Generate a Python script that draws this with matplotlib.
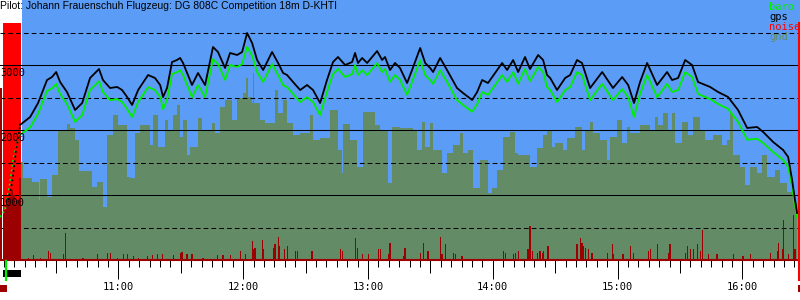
import matplotlib
matplotlib.use("Agg")
import matplotlib.pyplot as plt
import matplotlib.transforms as mtrans
from matplotlib.patches import Rectangle
from matplotlib.lines import Line2D
from matplotlib.ticker import FixedLocator, NullLocator

title = "Pilot: Johann Frauenschuh Flugzeug: DG 808C Competition 18m D-KHTI"

# time axis: minutes after 10:00 ; altitudes in metres
x_start, x_end = 3.1, 387.7
y_max = 4000
hour_ticks = [60, 120, 180, 240, 300, 360]
hour_labels = ["11:00", "12:00", "13:00", "14:00", "15:00", "16:00"]
y_labels = [1000, 2000, 3000]
solid_grid = [1000, 2000, 3000]
dashed_grid = [500, 1500, 2500, 3500]

engine_start, engine_end = 4.5, 13.2
flight_start = 13.7
takeoff_t = 6.0
landing_t = 387.0
band_top = 3650

gps_t = [12.7, 17.6, 21.4, 25.7, 28.1, 30.1, 32.0, 35.3, 39.2, 42.6, 46.4, 48.8, 50.7, 52.6,
         56.0, 59.4, 61.8, 64.2, 66.6, 69.5, 74.3, 77.6, 80.1, 81.5, 83.4, 85.8, 88.2, 89.7,
         91.1, 95.4, 98.3, 101.7, 105.5, 107.9, 111.3, 113.7, 117.1, 119.5, 121.9, 124.3,
         126.7, 129.6, 133.9, 136.8, 139.2, 141.1, 144.0, 147.4, 150.7, 153.6, 157.0, 160.3,
         163.2, 165.6, 169.0, 172.4, 173.8, 175.2, 177.2, 179.6, 184.4, 186.8, 188.2, 190.6,
         193.0, 195.4, 198.8, 201.2, 205.1, 207.5, 209.9, 211.3, 214.7, 218.0, 222.8, 225.7,
         230.1, 232.5, 234.9, 237.7, 241.1, 244.5, 246.9, 249.8, 252.2, 255.5, 257.9, 261.8,
         264.2, 266.1, 267.6, 270.9, 274.8, 277.2, 280.5, 282.9, 286.8, 292.6, 297.8, 302.2,
         305.1, 307.9, 310.8, 314.2, 319.0, 323.8, 326.2, 329.1, 332.5, 335.8, 338.7, 344.5,
         348.3, 353.1, 357.9, 362.3, 367.1, 370.0, 374.8, 379.6, 382.0, 383.9, 385.3, 386.3]
gps_alt = [2077, 2200, 2415, 2769, 2815, 2892, 2738, 2585, 2308, 2415, 2800, 2877, 2938, 2769,
           2646, 2662, 2615, 2508, 2385, 2615, 2846, 2800, 2692, 2508, 2646, 3046, 3077, 3108,
           3031, 2692, 2877, 2692, 3277, 3200, 2954, 3185, 3154, 3200, 3492, 3338,
           3077, 2923, 3200, 3031, 2877, 2846, 2738, 2615, 2692, 2615, 2415, 2769,
           3046, 3123, 3000, 3046, 3185, 3031, 3108, 3031, 3215, 3077, 3123, 2923,
           3031, 2954, 2723, 2923, 3262, 3031, 2954, 2892, 3108, 2923, 2646, 2569,
           2462, 2585, 2769, 2723, 2877, 3031, 2923, 3077, 2892, 3123, 2938, 3154,
           3077, 2846, 2800, 2615, 2800, 2846, 3077, 3031, 2646, 2892, 2646, 2815,
           2692, 2415, 2738, 3031, 2692, 2892, 2769, 2800, 3077, 3000, 2738, 2662,
           2585, 2508, 2308, 2031, 2046, 1969, 1815, 1692, 1585, 1231, 923, 723]
baro_alt = [1923, 2040, 2250, 2600, 2640, 2710, 2555, 2400, 2125, 2230, 2615, 2690, 2750, 2585,
            2460, 2475, 2430, 2325, 2200, 2430, 2660, 2615, 2505, 2320, 2460, 2860, 2890, 2920,
            2845, 2505, 2690, 2505, 3090, 3015, 2770, 3000, 2970, 3015, 3280, 3140,
            2890, 2740, 3015, 2845, 2690, 2660, 2555, 2430, 2505, 2430, 2230, 2585,
            2860, 2940, 2815, 2860, 3000, 2845, 2920, 2845, 3030, 2890, 2940, 2740,
            2845, 2770, 2540, 2740, 3075, 2845, 2770, 2710, 2920, 2740, 2460, 2385,
            2280, 2400, 2585, 2540, 2690, 2845, 2740, 2890, 2710, 2940, 2750, 2970,
            2890, 2660, 2615, 2430, 2615, 2660, 2890, 2845, 2460, 2710, 2460, 2630,
            2505, 2200, 2555, 2845, 2505, 2710, 2585, 2615, 2890, 2815, 2555, 2475,
            2400, 2325, 2125, 1850, 1865, 1800, 1660, 1540, 1430, 1130, 850, 660]

tow_gps_t = [7.0, 8.9, 10.8, 12.7]
tow_gps_alt = [923, 1185, 1692, 2046]
tow_baro_t = [3.1, 5.5, 7.9, 9.4, 11.3, 12.7]
tow_baro_alt = [662, 769, 1185, 1538, 1800, 1923]

gnd_t = [12.74, 14.18, 18.51, 21.88, 22.36, 25.72, 28.13, 31.01, 35.34, 36.78, 39.18, 41.11,
         47.36, 49.76, 52.64, 54.57, 57.45, 59.86, 64.18, 65.63, 68.03, 70.43, 75.24, 76.68,
         79.09, 82.45, 83.89, 86.30, 88.22, 89.66, 91.11, 93.03, 94.47, 98.32, 100.24, 105.05,
         106.49, 108.89, 111.30, 114.66, 117.07, 119.95, 121.39, 122.36, 124.28, 124.76, 125.24,
         128.13, 130.53, 135.34, 136.78, 139.18, 141.11, 143.99, 147.36, 152.16, 153.61, 156.97,
         161.78, 165.63, 167.55, 168.03, 171.39, 174.76, 177.64, 183.41, 185.82, 189.66, 191.59,
         195.43, 201.68, 203.61, 206.01, 207.45, 209.86, 211.30, 215.63, 218.03, 220.91, 224.28,
         225.72, 228.13, 230.53, 233.89, 237.74, 239.66, 242.07, 244.95, 248.32, 250.72, 252.16,
         257.93, 261.30, 264.18, 266.11, 268.51, 269.95, 273.80, 275.72, 279.57, 282.93, 284.38,
         286.78, 288.22, 291.59, 294.95, 296.39, 299.76, 302.16, 304.57, 306.01, 310.82, 315.63,
         318.03, 319.47, 321.88, 324.28, 326.20, 327.64, 331.01, 333.89, 336.30, 339.66, 342.07,
         345.91, 350.24, 352.64, 354.09, 355.53, 358.89, 361.30, 363.70, 367.07, 369.47, 371.88,
         375.72, 378.13, 381.49, 384.38, 386.30]
gnd_alt = [1508, 1262, 1200, 923, 1246, 969, 1308, 2000, 2092, 2031, 1846, 1369,
           1123, 1200, 815, 1923, 2231, 2077, 1277, 1262, 1954, 2077, 1769, 2231,
           1738, 2154, 2000, 2231, 2385, 1892, 2154, 1615, 1738, 2185, 2000, 2108,
           1954, 2354, 2462, 2154, 2492, 2569, 2800, 2508, 2415, 2877, 2415,
           2154, 2108, 2615, 2262, 2462, 2108, 1923, 1954, 2231, 1846, 1877,
           2308, 1692, 1338, 2092, 1846, 1431, 2277, 2077, 2000, 1185, 2046,
           2031, 2000, 1692, 2123, 1738, 2108, 1692, 1338, 1646, 1769, 1954,
           1646, 1692, 1108, 1538, 1031, 1108, 1385, 1892, 1969, 1646, 1615,
           1431, 1723, 1923, 2000, 1738, 1800, 1692, 1877, 2046, 1692, 2000,
           2123, 1954, 1846, 1538, 1892, 2154, 1800, 2046, 1954, 2077, 2000,
           2200, 2077, 2262, 2000, 2262, 1800, 2123, 1923, 2200, 2000, 1846,
           1923, 1769, 1846, 2262, 1615, 1431, 1154, 1431, 1338, 1615, 1277,
           1385, 1185, 1046, 877, 877]

ground_noise_t = [3.4, 5.0, 6.0, 7.0, 7.9, 8.9, 9.9, 10.8, 11.8, 12.7]
ground_noise = [2646, 770, 846, 923, 969, 1077, 1000, 846, 923, 1262]

noise_t = [16.6, 19.0, 22.4, 26.2, 27.2, 33.4, 34.4, 43.0, 50.2, 54.6, 56.0, 59.4, 62.3, 64.2,
           67.1, 69.5, 73.8, 76.2, 78.6, 81.0, 86.3, 89.7, 90.6, 93.0, 95.4, 100.7, 107.5,
           110.3, 113.7, 118.5, 120.9, 124.3, 124.8, 125.7, 129.1, 129.6, 134.4, 135.3, 136.8,
           137.7, 140.1, 141.1, 145.0, 145.9, 153.1, 166.6, 167.6, 173.8, 174.8, 177.6, 180.1,
           184.9, 185.8, 189.7, 190.6, 196.9, 197.8, 205.1, 206.5, 208.4, 208.9, 214.7, 215.6,
           217.1, 220.9, 221.9, 225.2, 245.0, 245.9, 249.8, 250.7, 252.2, 256.5, 257.0, 257.9,
           258.9, 261.3, 262.7, 263.7, 264.2, 266.1, 266.6, 280.5, 282.0, 282.9, 283.4, 284.4,
           285.8, 287.7, 295.3, 297.4, 297.8, 302.6, 306.0, 307.5, 314.7, 315.6, 319.0, 324.3,
           325.2, 332.5, 333.4, 334.9, 336.3, 338.2, 339.7, 340.6, 343.5, 347.8, 355.5, 360.3,
           363.7, 373.3, 376.7, 377.2, 379.1, 379.6, 382.0, 384.4, 385.3]
noise_val = [31, 77, 31, 138, 108, 92, 415, 31, 92, 108, 108, 31, 92, 92,
             62, 31, 62, 77, 92, 92, 77, 108, 123, 92, 92, 31, 77,
             77, 77, 138, 92, 292, 169, 185, 308, 169, 185, 246, 354,
             215, 169, 215, 138, 138, 138, 169, 138, 338, 185, 92, 92,
             169, 169, 92, 262, 62, 185, 108, 262, 138, 138, 354, 92,
             246, 108, 92, 62, 138, 108, 92, 108, 138, 169, 169, 523,
             138, 108, 138, 108, 138, 215, 215, 246, 338, 262, 215, 185,
             169, 108, 108, 246, 92, 92, 215, 108, 138, 169, 246, 108,
             246, 108, 215, 169, 169, 246, 138, 462, 92, 92, 92, 62,
             92, 108, 138, 262, 169, 615, 92, 692, 169]

SKY = "#5b9cf6"
GND = "#638b66"
NOISE = "#9c0000"
BARO = "#00ee00"
RED = "#ff0000"
MONO = "DejaVu Sans Mono"

fig = plt.figure(figsize=(8, 3), dpi=100)
ax = fig.add_axes([0, 40 / 300, 1, 260 / 300])
ax.set_xlim(x_start, x_end)
ax.set_ylim(0, y_max)
ax.set_facecolor("white")
for s in ["top", "left", "right"]:
    ax.spines[s].set_visible(False)
ax.spines["bottom"].set_color(NOISE)
ax.spines["bottom"].set_linewidth(1.5)

ax.axvspan(flight_start, x_end, color=SKY, lw=0, zorder=0)
ax.fill_between(gnd_t, 0, gnd_alt, step="post", color=GND, lw=0, zorder=1)
ax.axvspan(engine_start, engine_end, ymax=band_top / y_max, color=RED, lw=0, zorder=1.5)

for v in solid_grid:
    ax.axhline(v, color="black", lw=0.75, zorder=2)
for v in dashed_grid:
    ax.axhline(v, color="black", lw=0.75, ls=(0, (4.5, 3)), zorder=2)

ax.bar(ground_noise_t, ground_noise, width=1.0, color=NOISE, lw=0, zorder=3)
ax.bar(noise_t, noise_val, width=0.5, color=NOISE, lw=0, zorder=3)

ax.plot(tow_baro_t, tow_baro_alt, color=BARO, lw=1.3, ls=":", zorder=4)
ax.plot(tow_gps_t, tow_gps_alt, color="black", lw=1.3, ls=":", zorder=5)
ax.plot(gps_t, baro_alt, color=BARO, lw=1.3, zorder=4)
ax.plot(gps_t, gps_alt, color="black", lw=1.3, zorder=5)

ax.axvline(landing_t, ymax=band_top / y_max, color=RED, lw=1.5, zorder=6)

# ticks
ax.set_yticks([])
ax.xaxis.set_major_locator(FixedLocator(list(range(30, 390, 30))))
ax.xaxis.set_minor_locator(FixedLocator(list(range(5, 390, 5))))
ax.tick_params(axis="x", which="major", length=9.1, width=0.72, labelbottom=False)
ax.tick_params(axis="x", which="minor", length=4.8, width=0.72)
sec = ax.secondary_xaxis("bottom")
sec.spines["bottom"].set_visible(False)
sec.set_xticks(hour_ticks)
sec.set_xticklabels(hour_labels, fontfamily=MONO, fontsize=7.5)
sec.xaxis.set_minor_locator(NullLocator())
sec.tick_params(axis="x", length=13.7, width=0.72, pad=2)

for v in y_labels:
    ax.text(x_start + 0.05, v - 45, str(v), ha="left", va="top", fontfamily=MONO,
            fontsize=7.5, zorder=7)

# markers below axis
trans = mtrans.blended_transform_factory(ax.transData, fig.transFigure)
fig.add_artist(Rectangle((engine_start - 0.1, 1 - 276.7 / 300), engine_end - engine_start + 0.1,
                         6.7 / 300, transform=trans, color="black", lw=0))
fig.add_artist(Line2D([takeoff_t, takeoff_t], [1 - 280 / 300, 1 - 261 / 300], transform=trans,
                      color=BARO, lw=1.6))
fig.add_artist(Rectangle((x_start, 1 - 292 / 300), 3.2, 7 / 300, transform=trans,
                         color=NOISE, lw=0))
fig.add_artist(Line2D([landing_t, landing_t], [1 - 280 / 300, 1 - 260 / 300], transform=trans,
                      color=RED, lw=1.5))
fig.add_artist(Rectangle((landing_t - 0.3, 1 - 292 / 300), 1.0, 7 / 300, transform=trans,
                         color=NOISE, lw=0))

fig.text(0.0, 1 - 1 / 300, title, ha="left", va="top", fontfamily="Liberation Sans", fontsize=7.5)
for i, (lab, col) in enumerate([("baro", BARO), ("gps", "black"), ("noise", RED), ("gnd", GND)]):
    fig.text(769 / 800, 1 - (2 + 10 * i) / 300, lab, color=col, ha="left", va="top",
             fontfamily=MONO, fontsize=7.5)

fig.savefig("out.png", dpi=100)
